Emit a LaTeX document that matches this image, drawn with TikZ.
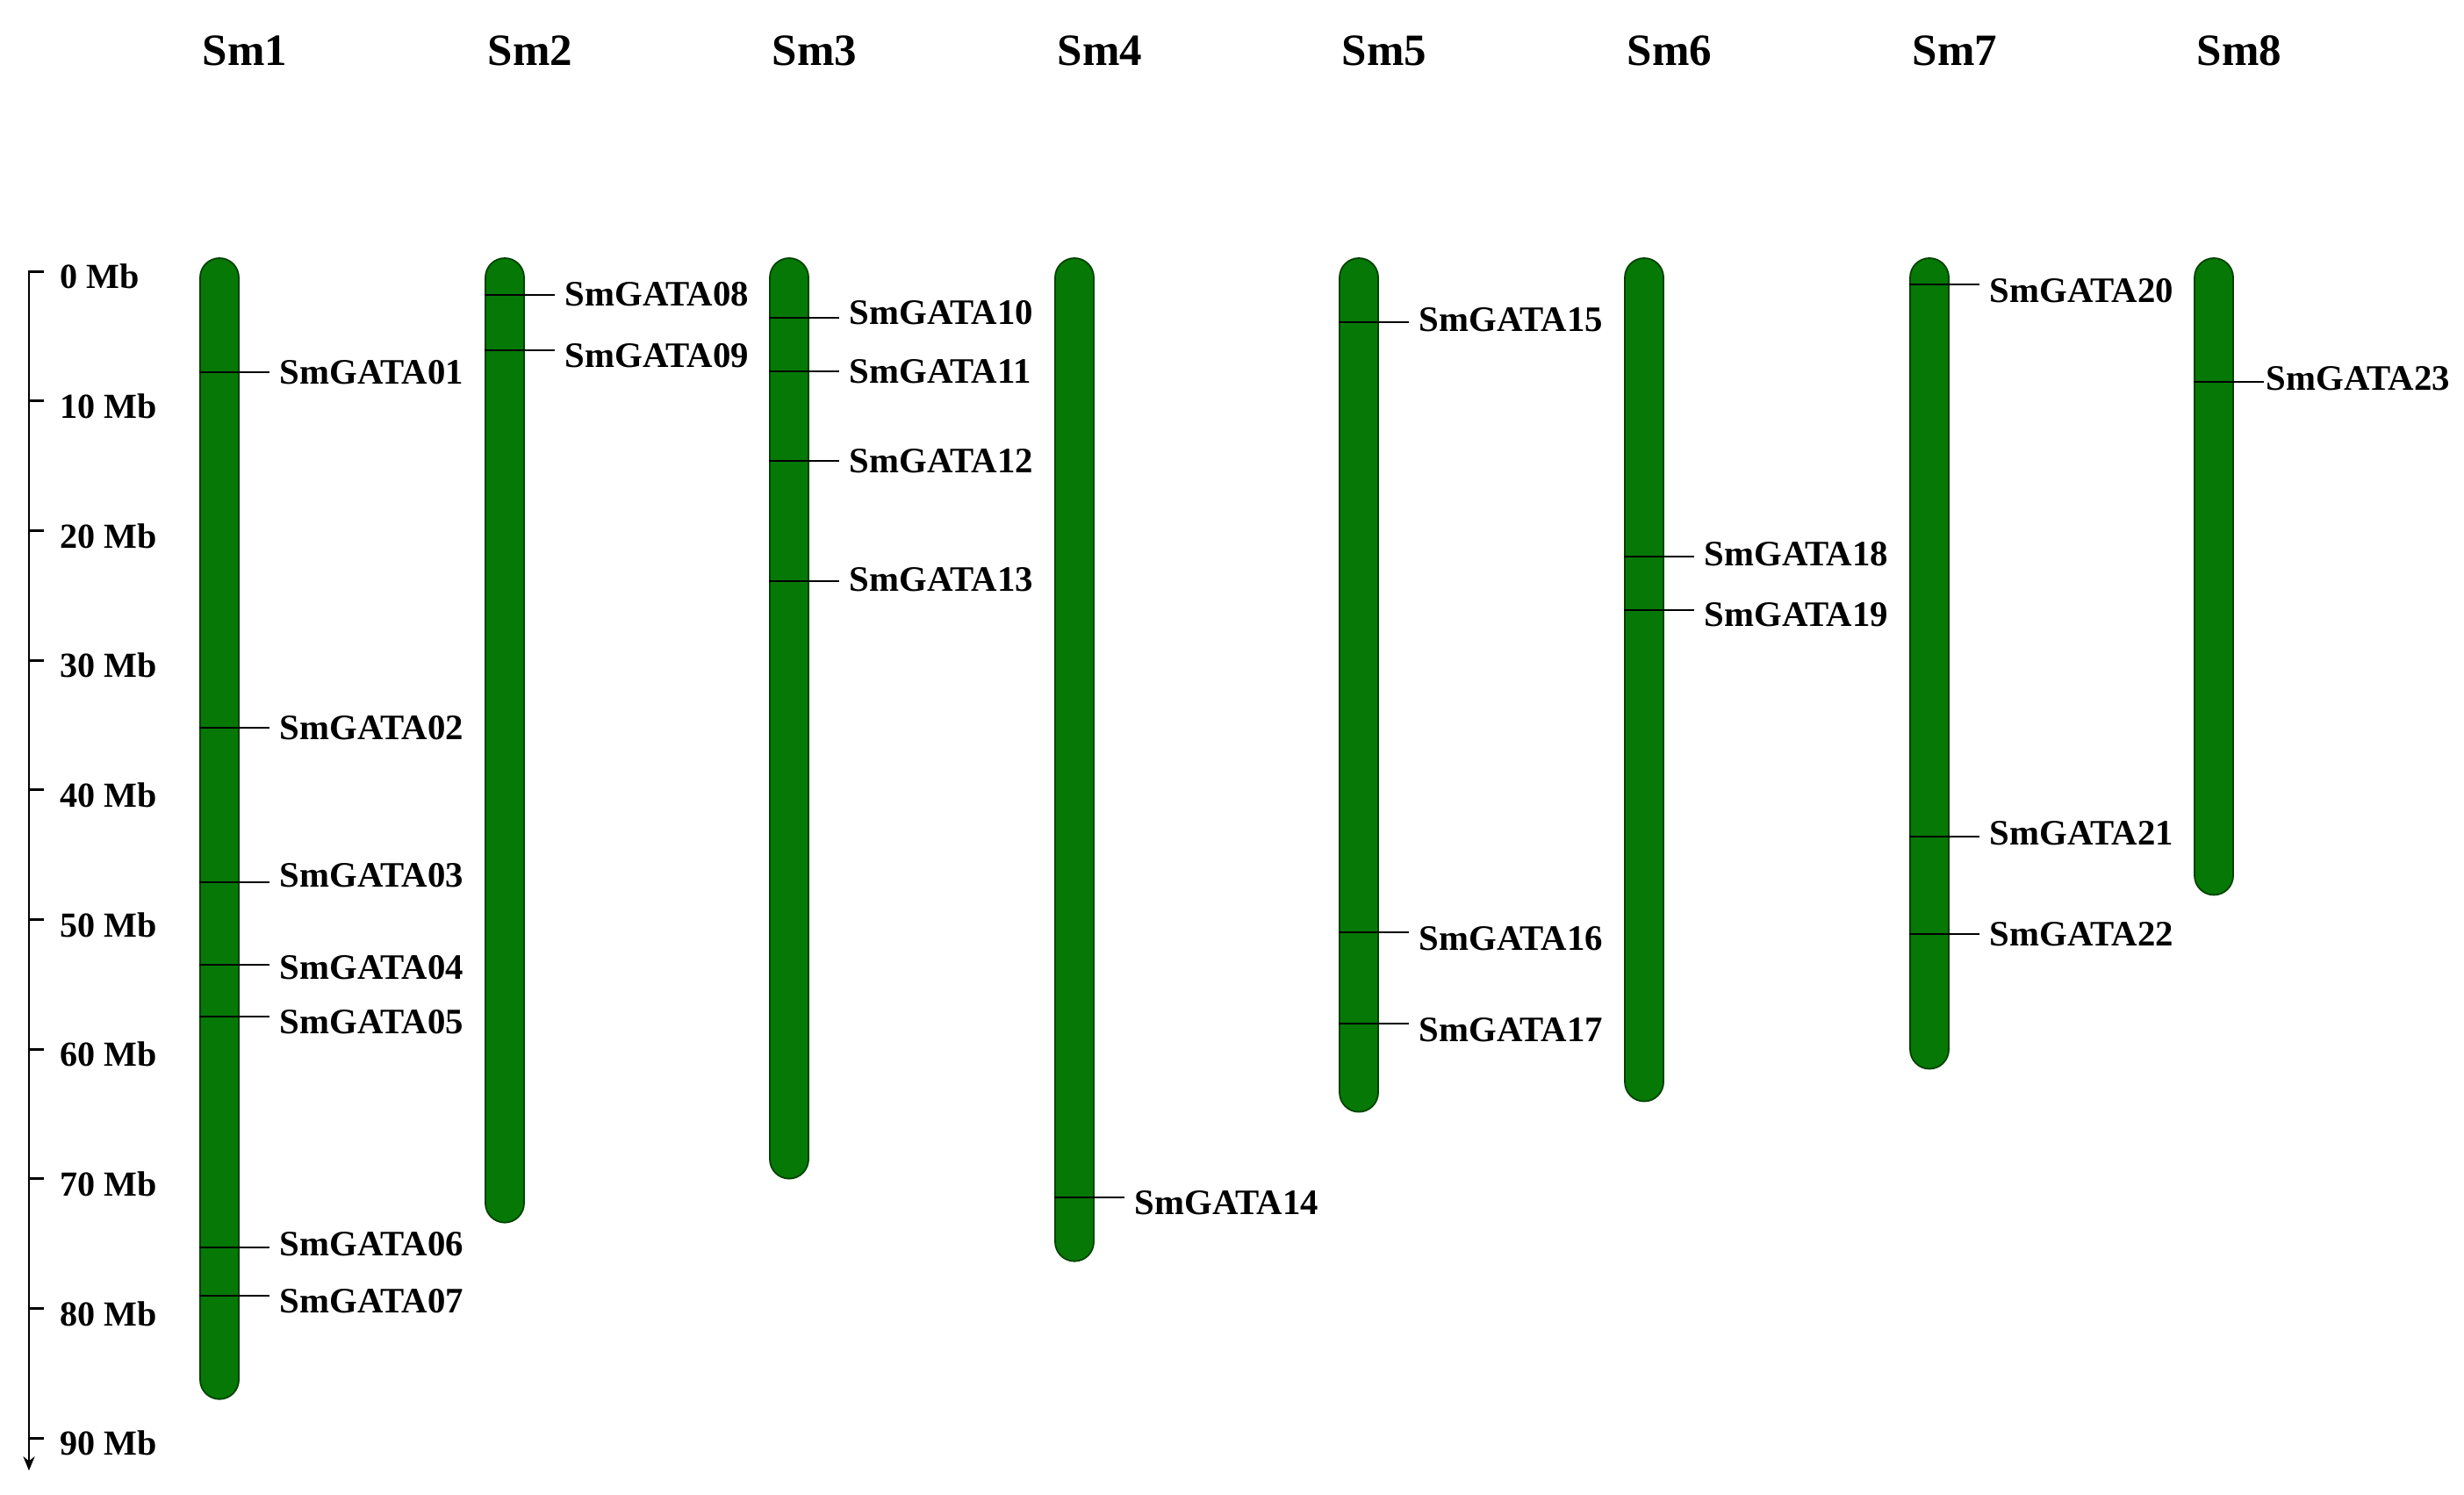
\documentclass[tikz,border=0pt]{standalone}
\usepackage{fontspec}
\setmainfont{Liberation Serif}
\usetikzlibrary{arrows.meta}
\definecolor{chromgreen}{RGB}{6,120,6}
\definecolor{chromedge}{RGB}{0,66,0}

\begin{document}
\begin{tikzpicture}[x=0.01cm, y=-0.1476cm,
    chrom/.style={draw=chromedge, line width=0.5pt, fill=chromgreen, rounded corners=0.22cm,
      minimum width=0.44cm, inner sep=0pt, anchor=north},
    gene/.style={anchor=west, inner xsep=0.11cm, inner ysep=0pt, font=\fontsize{11.6}{13}\selectfont\bfseries},
    geneline/.style={line width=0.6pt},
    chrname/.style={anchor=west, inner sep=0pt, font=\fontsize{14.5}{16}\selectfont\bfseries},
    scalelabel/.style={anchor=west, inner sep=0pt, font=\fontsize{11.4}{13}\selectfont\bfseries},
    scaleline/.style={line width=0.85pt}]
    \useasboundingbox (0,-20.93) rectangle (2807,94.38);

    % scale bar
    \draw[scaleline, -{Stealth[length=0.16cm, width=0.13cm]}] (50,0) -- (33,0) -- (33,92.5);
    \draw[scaleline] (33,10) -- (50,10);
    \draw[scaleline] (33,20) -- (50,20);
    \draw[scaleline] (33,30) -- (50,30);
    \draw[scaleline] (33,40) -- (50,40);
    \draw[scaleline] (33,50) -- (50,50);
    \draw[scaleline] (33,60) -- (50,60);
    \draw[scaleline] (33,70) -- (50,70);
    \draw[scaleline] (33,80) -- (50,80);
    \draw[scaleline] (33,90) -- (50,90);
    \node[scalelabel] (s0) at (68,0.4)  {0 Mb};
    \node[scalelabel] (s1) at (68,10.4) {10 Mb};
    \node[scalelabel] (s2) at (68,20.4) {20 Mb};
    \node[scalelabel] (s3) at (68,30.4) {30 Mb};
    \node[scalelabel] (s4) at (68,40.4) {40 Mb};
    \node[scalelabel] (s5) at (68,50.4) {50 Mb};
    \node[scalelabel] (s6) at (68,60.4) {60 Mb};
    \node[scalelabel] (s7) at (68,70.4) {70 Mb};
    \node[scalelabel] (s8) at (68,80.4) {80 Mb};
    \node[scalelabel] (s9) at (68,90.4) {90 Mb};

    % chromosome names
    \node[chrname] (h1) at (230,-17)  {Sm1};
    \node[chrname] (h2) at (555,-17)  {Sm2};
    \node[chrname] (h3) at (879,-17)  {Sm3};
    \node[chrname] (h4) at (1204,-17) {Sm4};
    \node[chrname] (h5) at (1528,-17) {Sm5};
    \node[chrname] (h6) at (1853,-17) {Sm6};
    \node[chrname] (h7) at (2178,-17) {Sm7};
    \node[chrname] (h8) at (2502,-17) {Sm8};

    % chromosomes
    \node[chrom, minimum height=12.99cm] (sm1) at (250,-1.08)  {};
    \node[chrom, minimum height=10.98cm] (sm2) at (575,-1.08)  {};
    \node[chrom, minimum height=10.48cm] (sm3) at (899,-1.08)  {};
    \node[chrom, minimum height=11.42cm] (sm4) at (1224,-1.08) {};
    \node[chrom, minimum height=9.72cm]  (sm5) at (1548,-1.08) {};
    \node[chrom, minimum height=9.60cm]  (sm6) at (1873,-1.08) {};
    \node[chrom, minimum height=9.23cm]  (sm7) at (2198,-1.08) {};
    \node[chrom, minimum height=7.25cm]  (sm8) at (2522,-1.08) {};

    % gene positions (line ends)
    \coordinate (p01) at (307,7.8);
    \coordinate (p02) at (307,35.2);
    \coordinate (p03) at (307,47.1);
    \coordinate (p04) at (307,53.5);
    \coordinate (p05) at (307,57.5);
    \coordinate (p06) at (307,75.3);
    \coordinate (p07) at (307,79.0);
    \coordinate (p08) at (632,1.8);
    \coordinate (p09) at (632,6.1);
    \coordinate (p10) at (956,3.6);
    \coordinate (p11) at (956,7.7);
    \coordinate (p12) at (956,14.6);
    \coordinate (p13) at (956,23.9);
    \coordinate (p14) at (1281,71.4);
    \coordinate (p15) at (1605,3.9);
    \coordinate (p16) at (1605,51.0);
    \coordinate (p17) at (1605,58.0);
    \coordinate (p18) at (1930,22.0);
    \coordinate (p19) at (1930,26.1);
    \coordinate (p20) at (2255,1.0);
    \coordinate (p21) at (2255,43.6);
    \coordinate (p22) at (2255,51.1);
    \coordinate (p23) at (2579,8.5);

    % gene names
    \node[gene] (g01) at (307,7.8)   {SmGATA01};
    \node[gene] (g02) at (307,35.2)  {SmGATA02};
    \node[gene] (g03) at (307,46.6)  {SmGATA03};
    \node[gene] (g04) at (307,53.7)  {SmGATA04};
    \node[gene] (g05) at (307,57.9)  {SmGATA05};
    \node[gene] (g06) at (307,75.0)  {SmGATA06};
    \node[gene] (g07) at (307,79.4)  {SmGATA07};
    \node[gene] (g08) at (632,1.75)  {SmGATA08};
    \node[gene] (g09) at (632,6.5)   {SmGATA09};
    \node[gene] (g10) at (956,3.2)   {SmGATA10};
    \node[gene] (g11) at (956,7.7)   {SmGATA11};
    \node[gene] (g12) at (956,14.6)  {SmGATA12};
    \node[gene] (g13) at (956,23.8)  {SmGATA13};
    \node[gene] (g14) at (1281,71.85) {SmGATA14};
    \node[gene] (g15) at (1605,3.7)  {SmGATA15};
    \node[gene] (g16) at (1605,51.5) {SmGATA16};
    \node[gene] (g17) at (1605,58.5) {SmGATA17};
    \node[gene] (g18) at (1930,21.8) {SmGATA18};
    \node[gene] (g19) at (1930,26.5) {SmGATA19};
    \node[gene] (g20) at (2255,1.5)  {SmGATA20};
    \node[gene] (g21) at (2255,43.35) {SmGATA21};
    \node[gene] (g22) at (2255,51.1) {SmGATA22};
    \node[gene, inner xsep=0.02cm] (g23) at (2579,8.3) {SmGATA23};

    \draw[geneline] (sm1.west |- p01) -- (p01);
    \draw[geneline] (sm1.west |- p02) -- (p02);
    \draw[geneline] (sm1.west |- p03) -- (p03);
    \draw[geneline] (sm1.west |- p04) -- (p04);
    \draw[geneline] (sm1.west |- p05) -- (p05);
    \draw[geneline] (sm1.west |- p06) -- (p06);
    \draw[geneline] (sm1.west |- p07) -- (p07);
    \draw[geneline] (sm2.west |- p08) -- (p08);
    \draw[geneline] (sm2.west |- p09) -- (p09);
    \draw[geneline] (sm3.west |- p10) -- (p10);
    \draw[geneline] (sm3.west |- p11) -- (p11);
    \draw[geneline] (sm3.west |- p12) -- (p12);
    \draw[geneline] (sm3.west |- p13) -- (p13);
    \draw[geneline] (sm4.west |- p14) -- (p14);
    \draw[geneline] (sm5.west |- p15) -- (p15);
    \draw[geneline] (sm5.west |- p16) -- (p16);
    \draw[geneline] (sm5.west |- p17) -- (p17);
    \draw[geneline] (sm6.west |- p18) -- (p18);
    \draw[geneline] (sm6.west |- p19) -- (p19);
    \draw[geneline] (sm7.west |- p20) -- (p20);
    \draw[geneline] (sm7.west |- p21) -- (p21);
    \draw[geneline] (sm7.west |- p22) -- (p22);
    \draw[geneline] (sm8.west |- p23) -- (p23);
\end{tikzpicture}
\end{document}
